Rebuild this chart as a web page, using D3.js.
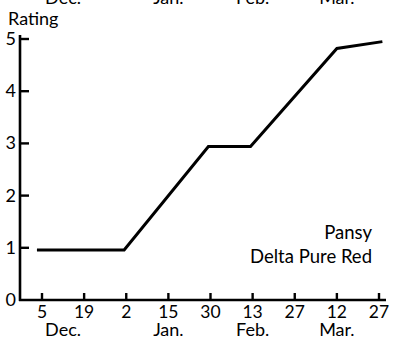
<!DOCTYPE html>
<html><head><meta charset="utf-8">
<script src="https://cdn.jsdelivr.net/npm/d3@7"></script>
<style>body{margin:0;background:#fff}svg{display:block}text{font-family:Lato,"DejaVu Sans",sans-serif;fill:#000}</style>
</head><body><svg id="c" width="394" height="340"></svg>
<script>
// tick categories (evenly spaced survey dates)
const dayLabels = ["5","19","2","15","30","13","27","12","27"];
const monthLabels = ["Dec.","Jan.","Feb.","Mar."];
const monthPos = [0.5, 3, 5, 7];           // tick-index position of month label
const yTicks = [0,1,2,3,4,5];
// series: x in tick-index units, y = rating
const seriesX = [-0.12, 1.95, 3.95, 4.95, 7.0, 8.08];
const seriesY = [0.96, 0.96, 2.94, 2.94, 4.82, 4.95];
const titleY = "Rating";
const noteLines = ["Pansy","Delta Pure Red"];

const svg = d3.select("#c");
const x = d3.scaleLinear().domain([0,8]).range([42,379]);
const y = d3.scaleLinear().domain([0,5]).range([300,39]);

// axes lines
svg.append("line").attr("x1",20).attr("x2",20).attr("y1",y(0)+1).attr("y2",35)
  .attr("stroke","#000").attr("stroke-width",2.6);
svg.append("line").attr("x1",19).attr("x2",386).attr("y1",y(0)).attr("y2",y(0))
  .attr("stroke","#000").attr("stroke-width",2.6);

// y ticks
svg.selectAll(".yt").data(yTicks.filter(d=>d>0)).join("line")
  .attr("x1",20).attr("x2",29).attr("y1",d=>y(d)).attr("y2",d=>y(d))
  .attr("stroke","#000").attr("stroke-width",2.4);
svg.selectAll(".yl").data(yTicks).join("text")
  .attr("x",16).attr("y",d=>y(d)+6).attr("text-anchor","end")
  .attr("font-size",18).text(d=>d);

// x ticks
svg.selectAll(".xt").data(dayLabels).join("line")
  .attr("x1",(d,i)=>x(i)).attr("x2",(d,i)=>x(i)).attr("y1",y(0)).attr("y2",y(0)-7)
  .attr("stroke","#000").attr("stroke-width",2.4);
svg.selectAll(".xl").data(dayLabels).join("text")
  .attr("x",(d,i)=>x(i)).attr("y",318).attr("text-anchor","middle")
  .attr("font-size",17.5).text(d=>d);
svg.selectAll(".ml").data(monthLabels).join("text")
  .attr("x",(d,i)=>x(monthPos[i])).attr("y",336).attr("text-anchor","middle")
  .attr("font-size",18).text(d=>d);
// cut-off month labels at top (from the panel above)
svg.selectAll(".mt").data(monthLabels).join("text")
  .attr("x",(d,i)=>x(monthPos[i])).attr("y",4).attr("text-anchor","middle")
  .attr("font-size",18).text(d=>d);

svg.append("text").attr("x",8).attr("y",25).attr("font-size",18).text(titleY);

// line
const line = d3.line().x(d=>x(d[0])).y(d=>y(d[1]));
svg.append("path").datum(seriesX.map((v,i)=>[v,seriesY[i]]))
  .attr("d",line).attr("fill","none").attr("stroke","#000").attr("stroke-width",3)
  .attr("stroke-linejoin","miter");

svg.selectAll(".nt").data(noteLines).join("text")
  .attr("x",372).attr("y",(d,i)=>239+i*24).attr("text-anchor","end")
  .attr("font-size",18.5).text(d=>d);
</script></body></html>
